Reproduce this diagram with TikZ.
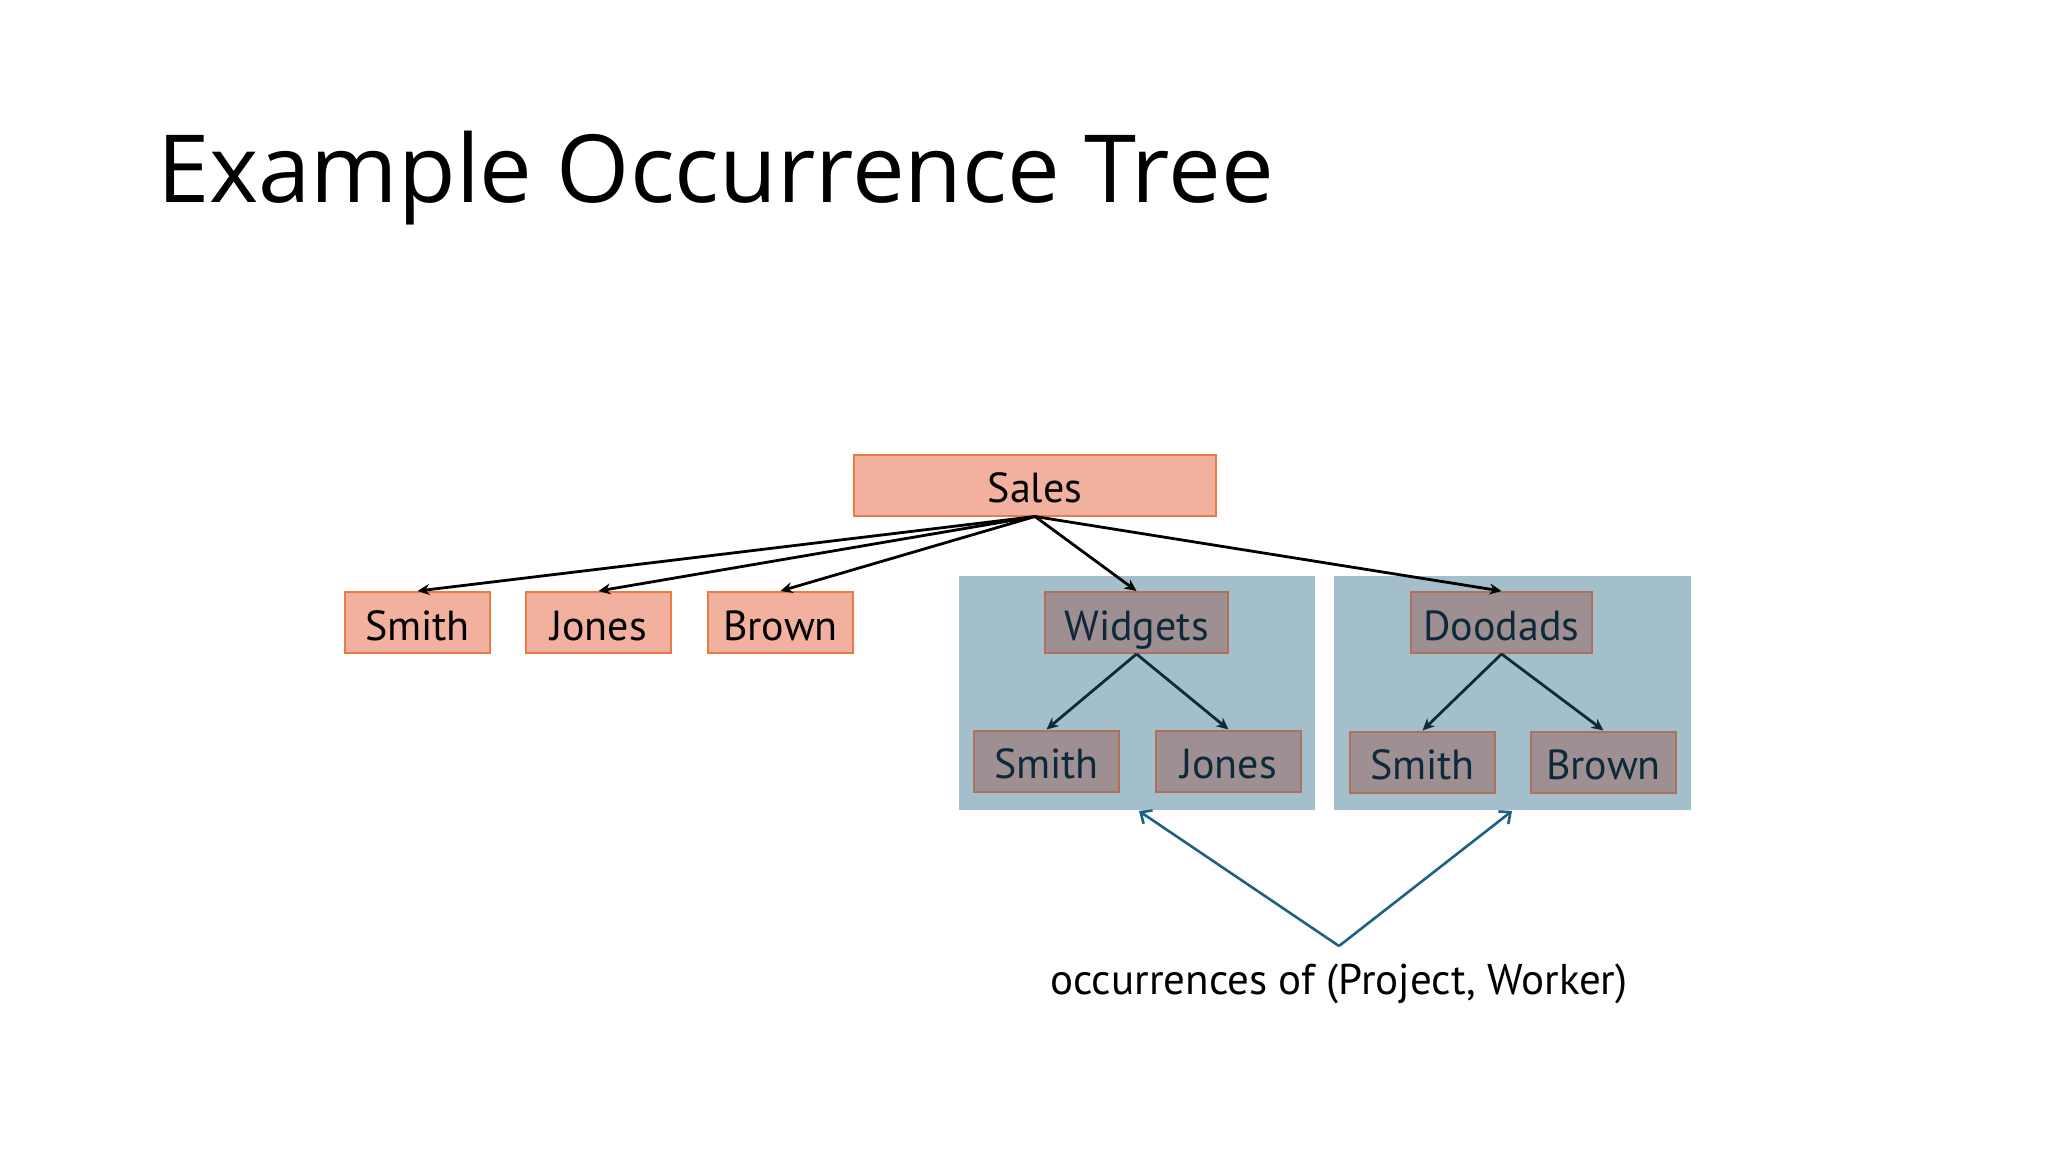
\documentclass[tikz,border=0pt]{standalone}
\usepackage{fontspec}
\setmainfont{PT Sans}
\newfontfamily\titlefont{Open Sans}
\usetikzlibrary{arrows.meta}
\definecolor{salfill}{HTML}{F2B09E}
\definecolor{salline}{HTML}{E97B45}
\definecolor{gfill}{HTML}{9E8F92}
\definecolor{gline}{HTML}{B0705A}
\definecolor{bluebg}{HTML}{A3BFCC}
\definecolor{navy}{HTML}{0E2A3A}
\definecolor{bluearr}{HTML}{1E6282}
\tikzset{
  boxtext/.style={font=\fontsize{42}{50}\selectfont, text height=37pt, text depth=2pt, inner sep=0pt, minimum height=61pt, line width=2pt},
  salbox/.style={boxtext, draw=salline, fill=salfill, text=black},
  gbox/.style={boxtext, draw=gline, fill=gfill, text=navy},
  bgbox/.style={fill=bluebg, draw=none, minimum width=356pt, minimum height=234pt, inner sep=0pt},
  karr/.style={line width=2.8pt, draw=black, -{Stealth[length=12pt,width=11pt]}},
  narr/.style={line width=2.8pt, draw=navy, -{Stealth[length=12pt,width=11pt]}},
  barr/.style={line width=2.6pt, draw=bluearr, -{Straight Barb[length=9pt,width=16pt]}}
}
\begin{document}
\begin{tikzpicture}[x=1pt,y=-1pt]
\useasboundingbox (0,0) rectangle (2048,1152);
\node[anchor=base west, inner sep=0pt, font=\titlefont\fontsize{94}{112}\selectfont] (title) at (157,202) {Example Occurrence Tree};
% blue backgrounds
\node[bgbox] (bg1) at (1137,693) {};
\node[bgbox, minimum width=357pt] (bg2) at (1512.5,693) {};
% top level
\node[salbox, minimum width=362pt] (sales) at (1035,485) {Sales};
\node[salbox, minimum width=145pt] (smith) at (417.5,622.5) {Smith};
\node[salbox, minimum width=145pt] (jones) at (598.5,622.5) {Jones};
\node[salbox, minimum width=145pt] (brown) at (780.5,622.5) {Brown};
\node[gbox, minimum width=183pt] (widgets) at (1136.5,622.5) {Widgets};
\node[gbox, minimum width=181pt] (doodads) at (1501.5,622.5) {Doodads};
\node[gbox, minimum width=145pt] (wsmith) at (1046.5,761) {Smith};
\node[gbox, minimum width=145pt] (wjones) at (1228.5,761) {Jones};
\node[gbox, minimum width=145pt] (dsmith) at (1422.5,762) {Smith};
\node[gbox, minimum width=145pt] (dbrown) at (1603.5,762) {Brown};
% arrows
\draw[karr] (sales.south) -- (smith.north);
\draw[karr] (sales.south) -- (jones.north);
\draw[karr] (sales.south) -- (brown.north);
\draw[karr] (sales.south) -- (widgets.north);
\draw[karr] (sales.south) -- (doodads.north);
\draw[narr] (widgets.south) -- (wsmith.north);
\draw[narr] (widgets.south) -- (wjones.north);
\draw[narr] (doodads.south) -- (dsmith.north);
\draw[narr] (doodads.south) -- (dbrown.north);
% label
\coordinate (apex) at (1339,946);
\node[font=\fontsize{43}{50}\selectfont, text=black, inner sep=0pt] (occ) at (1339,984) {occurrences of (Project, Worker)};
\draw[barr] (apex) -- (1139,811);
\draw[barr] (apex) -- (1512,811);
\end{tikzpicture}
\end{document}
